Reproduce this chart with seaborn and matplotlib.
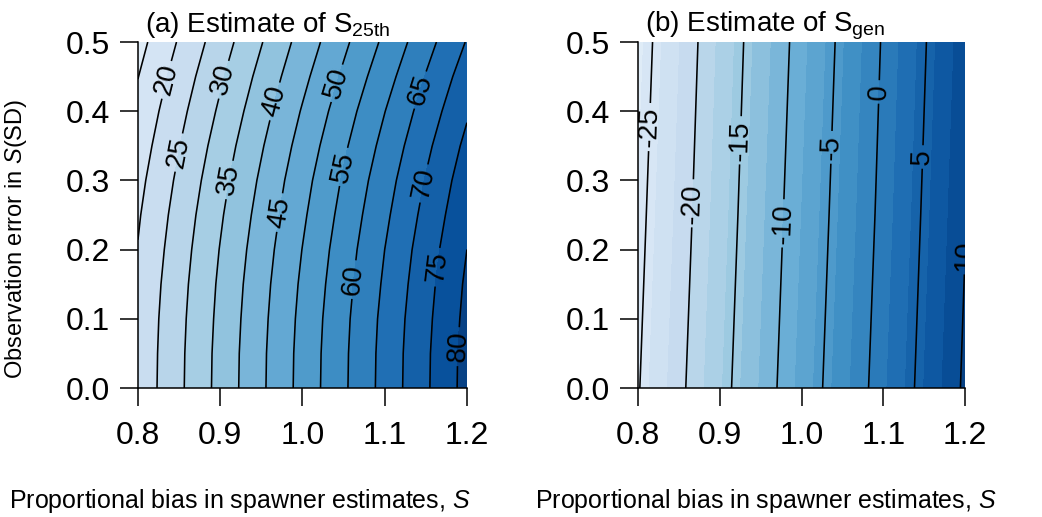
import numpy as np
import matplotlib
matplotlib.use("Agg")
import matplotlib.pyplot as plt
import seaborn as sns
from matplotlib.colors import ListedColormap

# --- data (grid of estimates) ---
bias = [0.8, 0.9, 1.0, 1.1, 1.2]          # proportional bias in spawner estimates
obs_sd_a = [0.0, 0.05, 0.10, 0.15, 0.20, 0.25, 0.30, 0.35, 0.40, 0.45, 0.50]
s25_est = [
    [21.5, 36.6, 51.7, 66.7, 81.8],
    [21.4, 36.5, 51.6, 66.6, 81.7],
    [21.2, 36.2, 51.3, 66.3, 81.3],
    [20.8, 35.8, 50.8, 65.7, 80.8],
    [20.2, 35.2, 50.1, 65.0, 80.0],
    [19.5, 34.4, 49.2, 64.0, 78.9],
    [18.6, 33.4, 48.2, 62.9, 77.7],
    [17.5, 32.2, 46.9, 61.5, 76.2],
    [16.3, 30.8, 45.4, 59.9, 74.4],
    [14.9, 29.3, 43.7, 58.0, 72.5],
    [13.3, 27.6, 41.9, 56.0, 70.3],
]
obs_sd_b = [0.0, 0.25, 0.50]
sgen_est = [
    [-25.2, -16.3, -7.3, 1.6, 10.5],
    [-25.9, -17.0, -8.0, 0.9, 9.85],
    [-26.6, -17.6, -8.7, 0.3, 9.2],
]

x_ticks = [0.8, 0.9, 1.0, 1.1, 1.2]
y_ticks = [0.0, 0.1, 0.2, 0.3, 0.4, 0.5]

# contour label placements (approximate spots seen in the figure)
lab_pos_a = [(0.836, 0.445), (0.851, 0.34), (0.906, 0.445), (0.914, 0.30),
             (0.970, 0.413), (0.975, 0.253), (1.043, 0.44), (1.052, 0.319),
             (1.067, 0.156), (1.145, 0.43), (1.146, 0.296), (1.161, 0.175),
             (1.186, 0.06)]
lab_pos_b = [(0.817, 0.377), (0.864, 0.267), (0.925, 0.358), (0.976, 0.238),
             (1.032, 0.348), (1.092, 0.428), (1.145, 0.334), (1.194, 0.228)]

sns.set_style("ticks")
plt.rcParams["font.family"] = ["Liberation Sans", "DejaVu Sans"]
plt.rcParams["mathtext.fontset"] = "custom"
plt.rcParams["mathtext.rm"] = "Liberation Sans"
plt.rcParams["mathtext.it"] = "Liberation Sans:italic"
plt.rcParams["mathtext.default"] = "regular"
plt.rcParams["contour.negative_linestyle"] = "solid"
plt.rcParams["text.color"] = "black"
plt.rcParams["axes.labelcolor"] = "black"

blues = sns.color_palette("Blues", as_cmap=True)

fig = plt.figure(figsize=(10.42, 5.17), dpi=100)
ax_a = fig.add_axes([0.1324, 0.2495, 0.3157, 0.6692])
ax_b = fig.add_axes([0.6123, 0.2495, 0.3138, 0.6692])


def fmt_level(v):
    return "%d" % int(round(v))


def draw_panel(ax, yvals, z, fill_levels, line_levels, label_pos, title):
    X, Y = np.meshgrid(bias, yvals)
    Z = np.array(z)
    nb = len(fill_levels) - 1
    cmap = ListedColormap(blues(np.linspace(0.12, 0.93, nb)))
    ax.contourf(X, Y, Z, levels=fill_levels, cmap=cmap)
    cs = ax.contour(X, Y, Z, levels=line_levels, colors="black",
                    linewidths=1.15, linestyles="solid")
    ax.clabel(cs, fmt=fmt_level, fontsize=20, inline=True, inline_spacing=4,
              manual=label_pos)
    ax.set_xlim(0.8, 1.2)
    ax.set_ylim(0.0, 0.5)
    ax.set_xticks(x_ticks)
    ax.set_xticklabels([f"{v:.1f}" for v in x_ticks])
    ax.set_yticks(y_ticks)
    ax.set_yticklabels([f"{v:.1f}" for v in y_ticks])
    sns.despine(ax=ax, top=True, right=True)
    for s in ["left", "bottom"]:
        ax.spines[s].set_linewidth(1.1)
        ax.spines[s].set_color("black")
    ax.tick_params(axis="both", direction="out", length=13, width=1.1,
                   labelsize=23, colors="black")
    ax.tick_params(axis="x", pad=11)
    ax.tick_params(axis="y", pad=7)
    ax.text(0.02, 1.03, title, transform=ax.transAxes, fontsize=20,
            ha="left", va="baseline", color="black")
    ax.set_xlabel(r"Proportional bias in spawner estimates, $\mathit{S}$",
                  fontsize=18, color="black")


draw_panel(ax_a, obs_sd_a, s25_est, np.arange(10, 90, 5), np.arange(15, 85, 5),
           lab_pos_a, r"(a) Estimate of S$_{25th}$")
draw_panel(ax_b, obs_sd_b, sgen_est, np.arange(-28, 14, 2), np.arange(-25, 15, 5),
           lab_pos_b, r"(b) Estimate of S$_{gen}$")

ax_a.xaxis.set_label_coords(0.31, -0.285)
ax_b.xaxis.set_label_coords(0.39, -0.285)
ax_a.set_ylabel(r"Observation error in $\mathit{S}$(SD)", fontsize=17,
                color="black")
ax_a.yaxis.set_label_coords(-0.33, 0.43)

fig.savefig("out.png", dpi=100)
